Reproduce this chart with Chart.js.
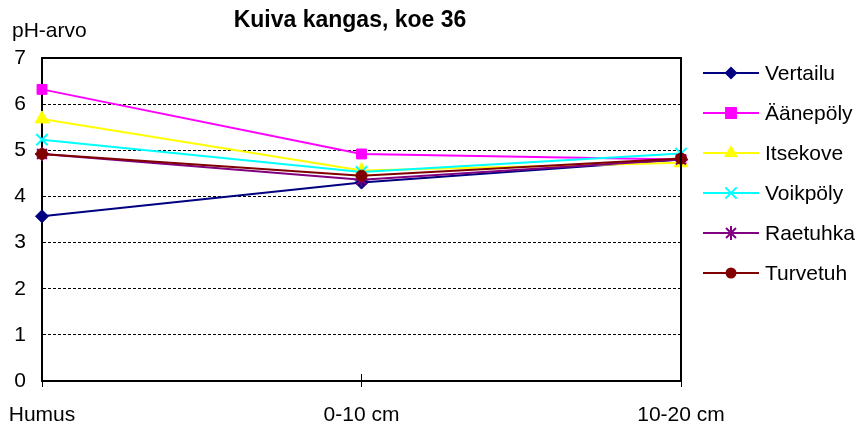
<!DOCTYPE html>
<html>
<head>
<meta charset="utf-8">
<script src="https://cdn.jsdelivr.net/npm/chart.js@4.4.1/dist/chart.umd.min.js"></script>
<style>
  html, body { margin: 0; padding: 0; background: #fff; }
  #wrap { width: 861px; height: 428px; }
</style>
</head>
<body>
<div id="wrap"><canvas id="chart" width="861" height="428"></canvas></div>
<script>
// chart data
const depths = ["Humus", "0-10 cm", "10-20 cm"];
const vertailu = [3.57, 4.30, 4.80];
const aanepoly = [6.32, 4.92, 4.80];
const itsekove = [5.68, 4.56, 4.73];
const voikpoly = [5.23, 4.53, 4.93];
const raetuhka = [4.92, 4.36, 4.80];
const turvetuh = [4.92, 4.45, 4.82];
const yTicks = [0, 1, 2, 3, 4, 5, 6, 7];

const chartTitle = "Kuiva kangas, koe 36";
const yTitle = "pH-arvo";
const FONT = "'Liberation Sans', Arial, sans-serif";

const series = [
  { label: "Vertailu", data: vertailu, color: "#000080", style: "rectRot", r: 6.5 },
  { label: "Äänepöly", data: aanepoly, color: "#ff00ff", style: "rect", r: 7 },
  { label: "Itsekove", data: itsekove, color: "#ffff00", style: "triangle", r: 8 },
  { label: "Voikpöly", data: voikpoly, color: "#00ffff", style: "crossRot", r: 8 },
  { label: "Raetuhka", data: raetuhka, color: "#800080", style: "star", r: 7 },
  { label: "Turvetuh", data: turvetuh, color: "#800000", style: "circle", r: 5.5 }
];

// small marker painter for the hand-drawn legend
function drawMarker(ctx, style, x, y, r, color) {
  ctx.save();
  ctx.fillStyle = color;
  ctx.strokeStyle = color;
  ctx.lineWidth = 2;
  ctx.beginPath();
  if (style === "rectRot") {
    ctx.moveTo(x, y - r); ctx.lineTo(x + r, y); ctx.lineTo(x, y + r); ctx.lineTo(x - r, y);
    ctx.closePath(); ctx.fill();
  } else if (style === "rect") {
    const s = r * Math.SQRT1_2;
    ctx.rect(x - s, y - s, 2 * s, 2 * s); ctx.fill(); ctx.stroke();
  } else if (style === "triangle") {
    ctx.moveTo(x, y - r);
    ctx.lineTo(x + r * Math.sin(Math.PI / 3), y + r / 2);
    ctx.lineTo(x - r * Math.sin(Math.PI / 3), y + r / 2);
    ctx.closePath(); ctx.fill();
  } else if (style === "crossRot") {
    const s = r * Math.SQRT1_2;
    ctx.moveTo(x - s, y - s); ctx.lineTo(x + s, y + s);
    ctx.moveTo(x + s, y - s); ctx.lineTo(x - s, y + s);
    ctx.stroke();
  } else if (style === "star") {
    const s = r * Math.SQRT1_2;
    ctx.moveTo(x - s, y - s); ctx.lineTo(x + s, y + s);
    ctx.moveTo(x + s, y - s); ctx.lineTo(x - s, y + s);
    ctx.moveTo(x, y - r); ctx.lineTo(x, y + r);
    ctx.stroke();
  } else {
    ctx.arc(x, y, r, 0, Math.PI * 2); ctx.fill();
  }
  ctx.restore();
}

const decorations = {
  id: "decorations",
  afterDraw(chart) {
    const ctx = chart.ctx;
    const a = chart.chartArea;
    ctx.save();
    // frame top and right
    ctx.strokeStyle = "#000";
    ctx.lineWidth = 2;
    ctx.beginPath();
    ctx.moveTo(a.left, a.top); ctx.lineTo(a.right, a.top); ctx.lineTo(a.right, a.bottom);
    ctx.stroke();
    // small ticks above x axis
    const xs = chart.scales.x;
    ctx.lineWidth = 1;
    depths.forEach((d, i) => {
      const px = xs.getPixelForValue(i);
      ctx.beginPath(); ctx.moveTo(px, a.bottom - 7); ctx.lineTo(px, a.bottom); ctx.stroke();
    });
    // titles
    ctx.fillStyle = "#000";
    ctx.textBaseline = "middle";
    ctx.textAlign = "center";
    ctx.font = "bold 23px " + FONT;
    ctx.fillText(chartTitle, 350, 21);
    ctx.textAlign = "left";
    ctx.font = "21px " + FONT;
    ctx.fillText(yTitle, 12, 31);
    // legend
    series.forEach((s, i) => {
      const y = 73 + i * 40;
      ctx.strokeStyle = s.color;
      ctx.lineWidth = 2;
      ctx.beginPath(); ctx.moveTo(703, y); ctx.lineTo(759, y); ctx.stroke();
      drawMarker(ctx, s.style, 731, y, s.r, s.color);
      ctx.fillStyle = "#000";
      ctx.font = "21px " + FONT;
      ctx.fillText(s.label, 765, y + 1);
    });
    ctx.restore();
  }
};

const datasets = series.map((s, i) => ({
  label: s.label,
  data: s.data,
  borderColor: s.color,
  backgroundColor: s.color,
  borderWidth: 2,
  pointStyle: s.style,
  pointRadius: s.r,
  pointHoverRadius: s.r,
  pointBorderWidth: s.style === "crossRot" || s.style === "star" ? 2 : 1,
  pointBorderColor: s.color,
  pointBackgroundColor: s.color,
  tension: 0,
  clip: false,
  order: series.length - i
}));

new Chart(document.getElementById("chart"), {
  type: "line",
  data: { labels: depths, datasets: datasets },
  plugins: [decorations],
  options: {
    responsive: false,
    animation: false,
    devicePixelRatio: 1,
    layout: { padding: { left: 0, right: 180, top: 58, bottom: 0 } },
    plugins: {
      legend: { display: false },
      title: { display: false },
      tooltip: { enabled: false }
    },
    scales: {
      x: {
        offset: false,
        grid: { drawOnChartArea: false, drawTicks: true, tickLength: 6, color: "#000", tickColor: "#000" },
        border: { display: true, color: "#000", width: 2 },
        ticks: { color: "#000", font: { family: FONT, size: 21 }, padding: 16, maxRotation: 0, autoSkip: false },
        afterFit(scale) {
          scale.height = 47;
          scale.paddingLeft = 0;
          scale.paddingRight = 0;
        }
      },
      y: {
        min: 0,
        max: 7,
        afterBuildTicks(scale) { scale.ticks = yTicks.map(v => ({ value: v })); },
        grid: { color: "#000", lineWidth: 1, drawTicks: false },
        border: { display: true, color: "#000", width: 2, dash: [3, 2] },
        ticks: { color: "#000", font: { family: FONT, size: 21 }, padding: 16 },
        afterFit(scale) {
          scale.width = 42;
          scale.paddingTop = 0;
          scale.paddingBottom = 0;
        }
      }
    }
  }
});
</script>
</body>
</html>
